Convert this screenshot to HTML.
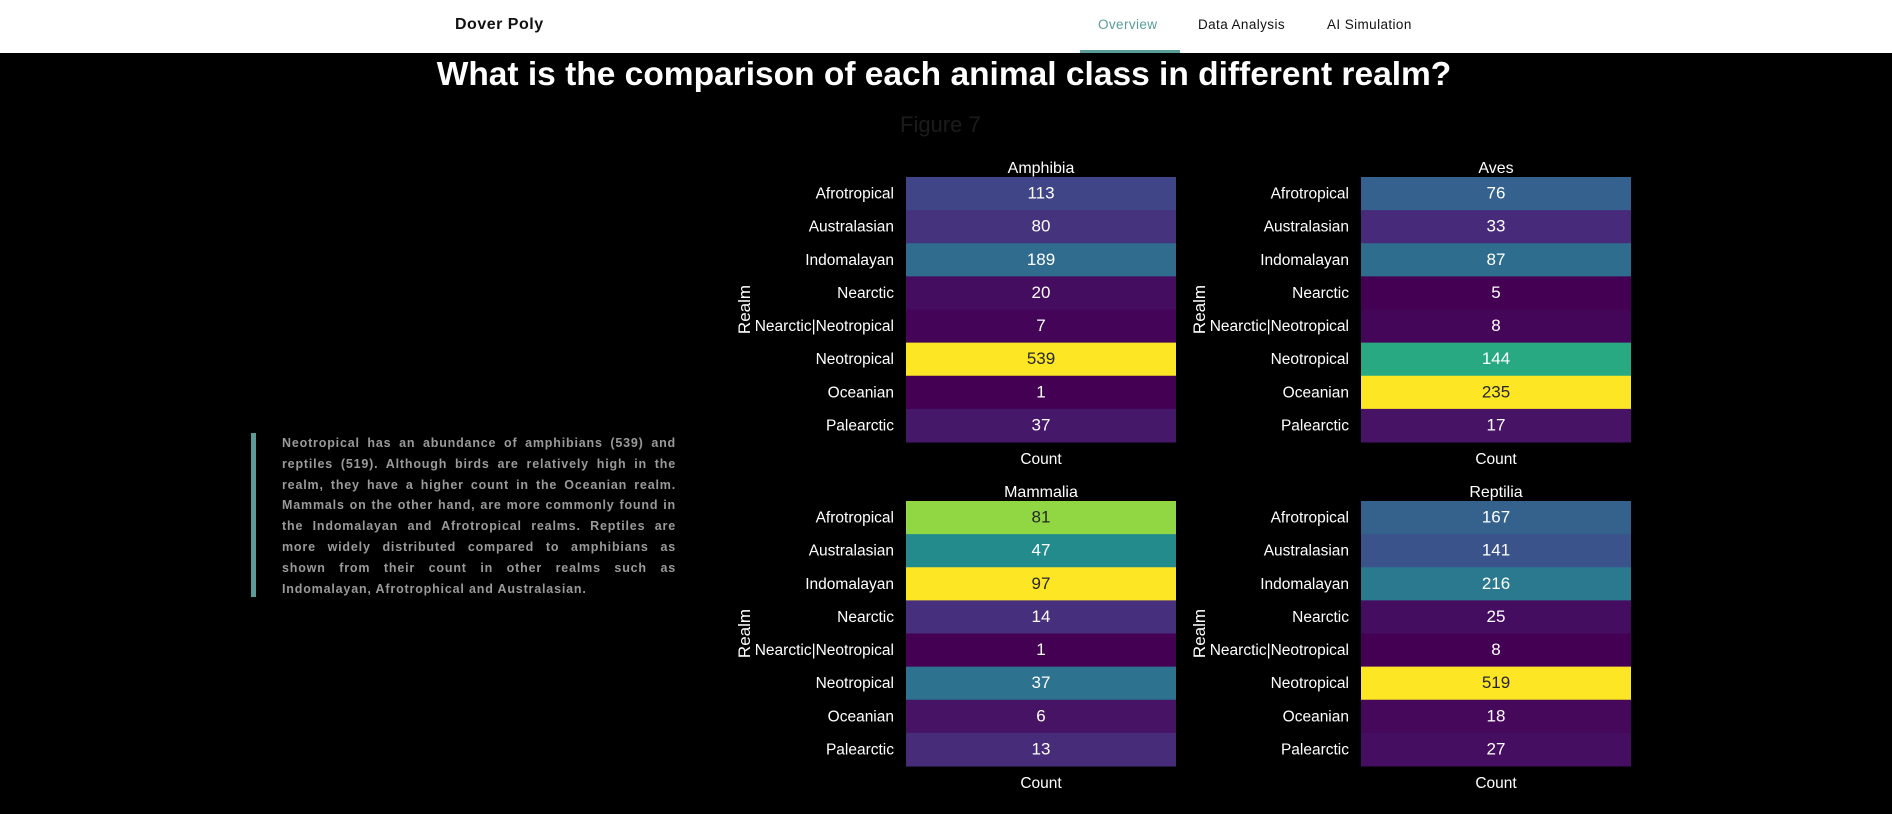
<!DOCTYPE html>
<html><head><meta charset="utf-8"><style>
body{margin:0;width:1892px;height:814px;background:#000;overflow:hidden;font-family:"Liberation Sans",sans-serif;position:relative}
.nav{position:absolute;left:0;top:0;width:1892px;height:53px;background:#fff}
.abs{position:absolute;white-space:nowrap}
</style></head><body>
<div class="nav">
  <div class="abs" style="left:455px;top:16px;font-weight:bold;font-size:16px;color:#111;letter-spacing:.5px">Dover Poly</div>
  <div class="abs" style="left:1098px;top:17px;font-size:13.5px;color:#5a9c98;letter-spacing:.4px">Overview</div>
  <div class="abs" style="left:1198px;top:17px;font-size:13.5px;color:#111;letter-spacing:.4px">Data Analysis</div>
  <div class="abs" style="left:1327px;top:17px;font-size:13.5px;color:#111;letter-spacing:.4px">AI Simulation</div>
  <div class="abs" style="left:1080px;top:50px;width:100px;height:3px;background:#5a9c98"></div>
</div>
<div class="abs" style="left:0;width:1888px;text-align:center;top:56px;font-size:33.5px;font-weight:bold;color:#fff">What is the comparison of each animal class in different realm?</div>
<div class="abs" style="left:900px;top:112px;font-size:22px;color:#1c1c1c">Figure 7</div>
<div class="abs" style="left:251px;top:433px;width:5px;height:164px;background:#5a9c98"></div>
<div class="abs" style="left:282px;top:433px;width:394px;white-space:normal;text-align:justify;font-size:12.5px;font-weight:bold;line-height:20.8px;letter-spacing:0.82px;color:#9a9a9a">Neotropical has an abundance of amphibians (539) and reptiles (519). Although birds are relatively high in the realm, they have a higher count in the Oceanian realm. Mammals on the other hand, are more commonly found in the Indomalayan and Afrotropical realms. Reptiles are more widely distributed compared to amphibians as shown from their count in other realms such as Indomalayan, Afrotrophical and Australasian.</div>
<svg id="chart" class="abs" style="left:0;top:0" width="1892" height="814"></svg>
<script>
const realms=["Afrotropical","Australasian","Indomalayan","Nearctic","Nearctic|Neotropical","Neotropical","Oceanian","Palearctic"];
const panelTitles=["Amphibia","Aves","Mammalia","Reptilia"];
const amphibia=[113,80,189,20,7,539,1,37];
const aves=[76,33,87,5,8,144,235,17];
const mammalia=[81,47,97,14,1,37,6,13];
const reptilia=[167,141,216,25,8,519,18,27];
const series=[amphibia,aves,mammalia,reptilia];
const vir=[[68,1,84],[72,40,120],[62,73,137],[49,104,142],[38,130,142],[31,158,137],[53,183,121],[109,205,89],[180,222,44],[253,231,37]];
function viridis(t){t=Math.max(0,Math.min(1,t));const p=t*(vir.length-1),i=Math.min(Math.floor(p),vir.length-2),f=p-i;
 const c=vir[i].map((v,k)=>Math.round(v+(vir[i+1][k]-v)*f));return `rgb(${c[0]},${c[1]},${c[2]})`;}
const NS="http://www.w3.org/2000/svg",svg=document.getElementById("chart");
function mk(tag,attrs,txt){const e=document.createElementNS(NS,tag);for(const k in attrs)e.setAttribute(k,attrs[k]);if(txt!=null)e.textContent=txt;svg.appendChild(e);return e;}
const panelX=[906,1361],panelY=[177,501],W=270,H=265,rh=H/realms.length;
series.forEach((vals,pi)=>{
 const x0=panelX[pi%2],y0=panelY[Math.floor(pi/2)];
 const mn=Math.min(...vals),mx=Math.max(...vals);
 const yScale=i=>y0+i*rh;
 let t=mk("text",{x:x0+W/2,y:y0-4,fill:"#fff","font-size":16,"text-anchor":"middle"},panelTitles[pi]);
 
 
 vals.forEach((v,i)=>{
  const n=(v-mn)/(mx-mn);
  const r=mk("rect",{x:x0,y:yScale(i),width:W,height:rh+0.5,fill:viridis(n)});
  
  
  const l=mk("text",{x:x0+W/2,y:yScale(i)+rh/2+5,fill:n>0.7?"#262626":"#fff","font-size":17,"text-anchor":"middle"},v);
  
  
  const tl=mk("text",{x:x0-12,y:yScale(i)+rh/2+5,fill:"#fff","font-size":15.5,"text-anchor":"end"},realms[i]);
  
  
 });
 const cx=mk("text",{x:x0+W/2,y:y0+H+22,fill:"#fff","font-size":15.5,"text-anchor":"middle"},"Count");
 
 
 const ry=y0+H/2,rx=x0-156;
 const ra=mk("text",{x:rx,y:ry,fill:"#fff","font-size":17,"text-anchor":"middle",transform:`rotate(-90 ${rx} ${ry})`},"Realm");
 
 
});
</script>
</body></html>
